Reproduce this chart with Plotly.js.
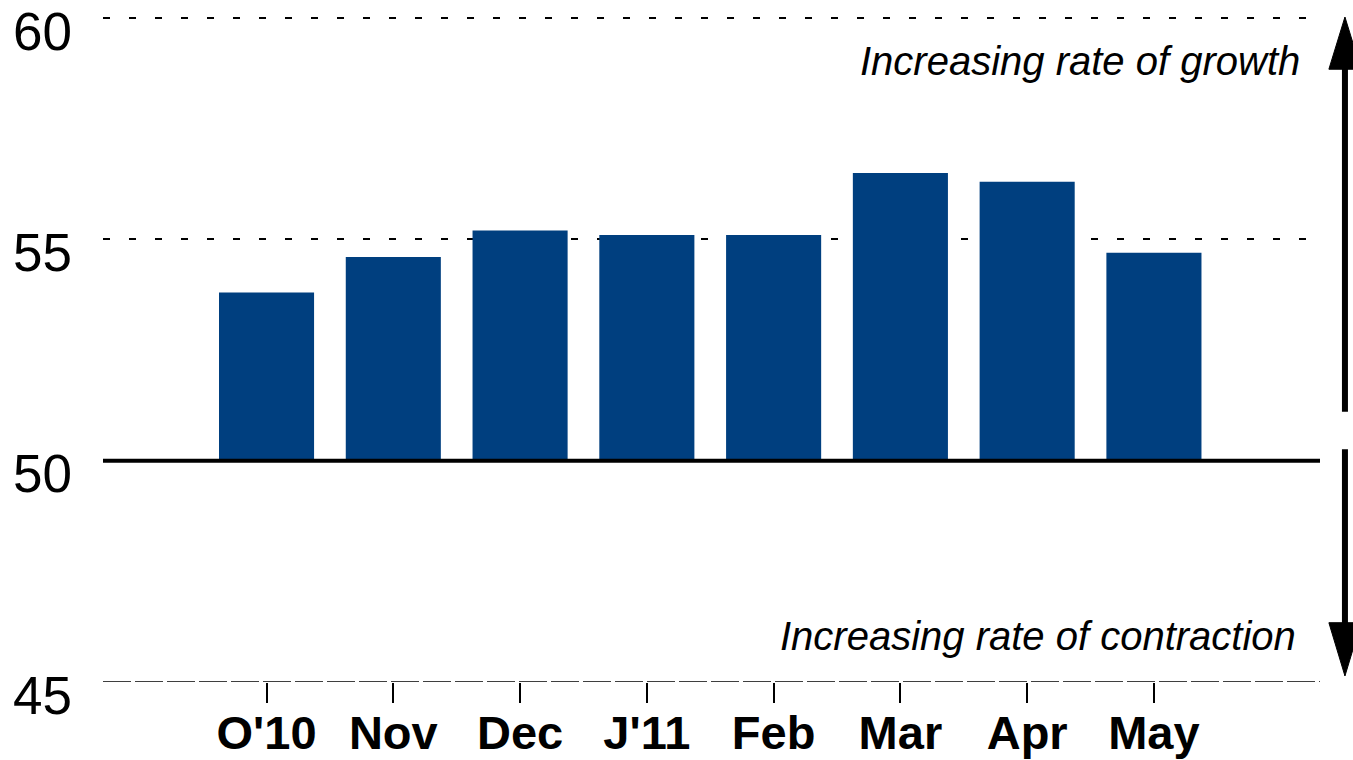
<!DOCTYPE html>
<html>
<head>
<meta charset="utf-8">
<script src="https://cdn.plot.ly/plotly-3.0.1.min.js"></script>
<style>html,body{margin:0;padding:0;background:#fff;}#chart{width:1353px;height:760px;}</style>
</head>
<body>
<div id="chart"></div>
<script>
const categories = ["O'10", "Nov", "Dec", "J'11", "Feb", "Mar", "Apr", "May"];
const values = [53.8, 54.6, 55.2, 55.1, 55.1, 56.5, 56.3, 54.7];
const baseline = 50;
const yTickVals = [45, 50, 55, 60];
const yTickText = ["45", "50", "55", "60"];
const growthLabel = "Increasing rate of growth";
const contractionLabel = "Increasing rate of contraction";

const trace = {
  type: 'bar',
  x: categories,
  y: values.map(v => v - baseline),
  base: baseline,
  marker: {color: '#003f7f', line: {width: 0}},
  hovertemplate: '%{x}: %{customdata}<extra></extra>',
  customdata: values
};
// empty helper trace so the tick-mark axis (x2) gets drawn
const tickHelper = {
  type: 'scatter', mode: 'markers', xaxis: 'x2', yaxis: 'y',
  x: [], y: [], hoverinfo: 'skip', showlegend: false
};

const xRange = [-1.29, 8.31];
const ax = 1.0205, hw = 0.0132;
const layout = {
  width: 1353, height: 760,
  margin: {l: 103, r: 33, t: 15, b: 78},
  paper_bgcolor: '#fff', plot_bgcolor: '#fff',
  showlegend: false,
  bargap: 0.25,
  font: {family: 'Liberation Sans, Arial, sans-serif', color: '#000'},
  xaxis: {
    type: 'category',
    range: xRange,
    showgrid: false, zeroline: false, showline: false,
    ticks: '',
    ticklabelstandoff: 19,
    tickfont: {family: 'Liberation Sans, Arial, sans-serif', size: 47, color: '#000', weight: 'bold'}
  },
  xaxis2: {
    overlaying: 'x', anchor: 'y', side: 'bottom',
    type: 'linear', range: xRange,
    tickvals: categories.map((_, i) => i),
    showticklabels: false,
    ticks: 'outside', ticklen: 20, tickwidth: 1.5, tickcolor: '#000',
    showgrid: false, zeroline: false, showline: false
  },
  yaxis: {
    range: [45, 60.07],
    tickvals: yTickVals, ticktext: yTickText,
    showgrid: true, gridcolor: '#000', gridwidth: 1.5, griddash: '7px,19px',
    zeroline: false, showline: false, ticks: '',
    ticklabelstandoff: 30, ticklabelshift: 13, ticklabeloverflow: 'allow',
    tickfont: {family: 'Liberation Sans, Arial, sans-serif', size: 53, color: '#000'}
  },
  shapes: [
    {type: 'line', xref: 'paper', yref: 'y', x0: 0, x1: 1, y0: 45, y1: 45,
     line: {color: '#000', width: 1.5, dash: '28px,4px'}},
    {type: 'line', xref: 'paper', yref: 'y', x0: 0, x1: 1, y0: 50, y1: 50,
     line: {color: '#000', width: 4}, layer: 'above'},
    {type: 'line', xref: 'paper', yref: 'paper', x0: ax, x1: ax, y0: 0.405, y1: 0.93,
     line: {color: '#000', width: 6}},
    {type: 'path', xref: 'paper', yref: 'paper',
     path: `M ${ax-hw},0.9187 L ${ax+hw},0.9187 L ${ax},0.997 Z`,
     fillcolor: '#000', line: {color: '#000', width: 1}},
    {type: 'line', xref: 'paper', yref: 'paper', x0: ax, x1: ax, y0: 0.349, y1: 0.08,
     line: {color: '#000', width: 6}},
    {type: 'path', xref: 'paper', yref: 'paper',
     path: `M ${ax-hw},0.0889 L ${ax+hw},0.0889 L ${ax},0.009 Z`,
     fillcolor: '#000', line: {color: '#000', width: 1}}
  ],
  annotations: [
    {text: growthLabel, xref: 'paper', yref: 'paper', x: 0.985, y: 0.931,
     xanchor: 'right', yanchor: 'middle', showarrow: false,
     font: {family: 'Liberation Sans, Arial, sans-serif', size: 40, color: '#000', style: 'italic'}},
    {text: contractionLabel, xref: 'paper', yref: 'paper', x: 0.982, y: 0.069,
     xanchor: 'right', yanchor: 'middle', showarrow: false,
     font: {family: 'Liberation Sans, Arial, sans-serif', size: 40, color: '#000', style: 'italic'}}
  ]
};

Plotly.newPlot('chart', [trace, tickHelper], layout, {displayModeBar: false, responsive: false});
</script>
</body>
</html>
